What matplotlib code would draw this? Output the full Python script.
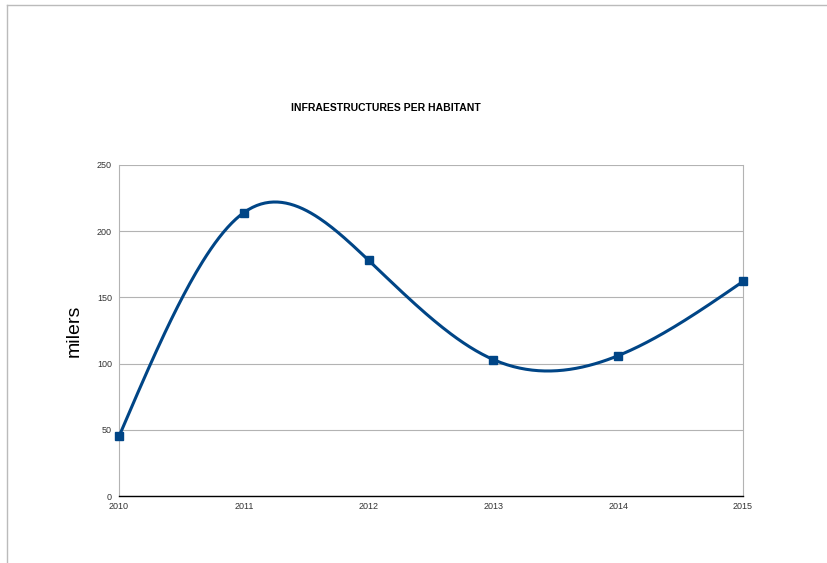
import numpy as np
import matplotlib
matplotlib.use('Agg')
import matplotlib.pyplot as plt
from matplotlib.lines import Line2D

plt.rcParams['font.family'] = ['Liberation Sans', 'DejaVu Sans']

# data
years = [2010, 2011, 2012, 2013, 2014, 2015]
milers = [45, 214, 178, 103, 106, 162]

def natural_spline(x, y, n=300):
    # plain natural cubic spline, only used to draw the smooth line
    x = np.asarray(x, float)
    y = np.asarray(y, float)
    k = len(x)
    h = np.diff(x)
    A = np.zeros((k, k))
    b = np.zeros(k)
    A[0, 0] = 1
    A[-1, -1] = 1
    for i in range(1, k - 1):
        A[i, i - 1] = h[i - 1]
        A[i, i] = 2 * (h[i - 1] + h[i])
        A[i, i + 1] = h[i]
        b[i] = 6 * ((y[i + 1] - y[i]) / h[i] - (y[i] - y[i - 1]) / h[i - 1])
    M = np.linalg.solve(A, b)
    xs = np.linspace(x[0], x[-1], n)
    ys = np.empty_like(xs)
    for j, t in enumerate(xs):
        i = min(np.searchsorted(x, t, side='right') - 1, k - 2)
        a = x[i + 1] - t
        c = t - x[i]
        ys[j] = (M[i] * a**3 + M[i + 1] * c**3) / (6 * h[i]) \
            + (y[i] / h[i] - M[i] * h[i] / 6) * a \
            + (y[i + 1] / h[i] - M[i + 1] * h[i] / 6) * c
    return xs, ys

blue = '#004586'
fig = plt.figure(figsize=(8.27, 5.63), dpi=100)
ax = fig.add_axes([0.1439, 0.119, 0.7545, 0.588])

xs, ys = natural_spline(years, milers)
ax.plot(xs, ys, color=blue, lw=2.2, zorder=3, solid_capstyle='round')
ax.plot(years, milers, 's', color=blue, ms=6, zorder=4, clip_on=False)

ax.set_xlim(2010, 2015)
ax.set_ylim(0, 250)
ax.set_yticks([0, 50, 100, 150, 200, 250])
ax.set_xticks(years)
ax.grid(axis='y', color='#b3b3b3', lw=0.8)
ax.set_axisbelow(True)
for s in ['left', 'right', 'top']:
    ax.spines[s].set_color('#b3b3b3')
    ax.spines[s].set_linewidth(0.8)
ax.spines['top'].set_visible(False)
ax.spines['bottom'].set_color('black')
ax.spines['bottom'].set_linewidth(1.0)
ax.tick_params(length=0, labelsize=6.5, colors='#333333')
ax.tick_params(axis='y', pad=5)
ax.tick_params(axis='x', pad=4)
ax.set_ylabel('milers', fontsize=14, labelpad=10)

fig.text(0.466, 0.808, 'INFRAESTRUCTURES PER HABITANT', ha='center', va='center',
         fontsize=7.5, fontweight='bold')

# page border lines
fig.add_artist(Line2D([0.0079, 1], [0.992, 0.992], color='#bbbbbb', lw=1))
fig.add_artist(Line2D([0.0079, 0.0079], [0, 0.992], color='#bbbbbb', lw=1))

fig.savefig('out.png', dpi=100)
